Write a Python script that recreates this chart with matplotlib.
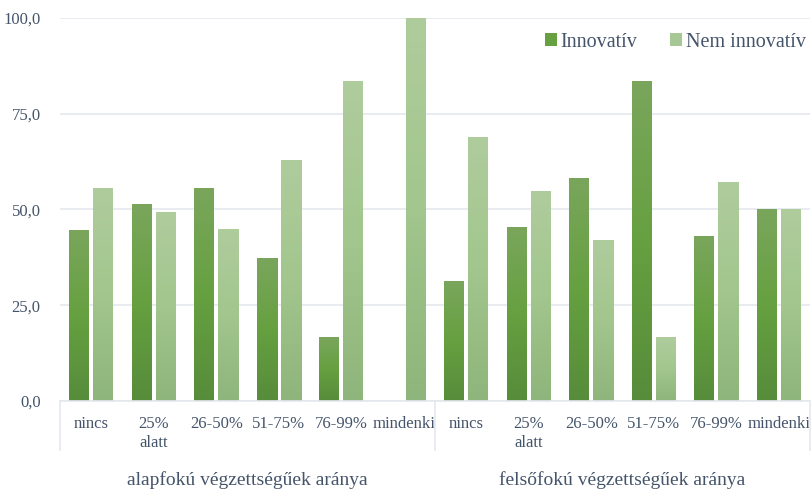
import matplotlib.pyplot as plt
import numpy as np
from matplotlib.colors import LinearSegmentedColormap
from matplotlib.lines import Line2D
from matplotlib.patches import Patch

groups = ["alapfokú végzettségűek aránya", "felsőfokú végzettségűek aránya"]
categories = ["nincs", "25%\nalatt", "26-50%", "51-75%", "76-99%", "mindenki"]
innovativ = [44.6, 51.2, 55.4, 37.3, 16.7, 0.0,
             31.1, 45.4, 58.2, 83.3, 42.9, 50.0]
nem_innovativ = [55.4, 49.1, 44.9, 62.7, 83.3, 100.0,
                 68.9, 54.6, 41.8, 16.7, 57.1, 50.0]
series_names = ["Innovatív", "Nem innovatív"]

text_color = "#44546a"
grid_color = "#e4e7ee"
dark_cmap = LinearSegmentedColormap.from_list("dark", ["#578c3b", "#66a040", "#7aa65c"])
light_cmap = LinearSegmentedColormap.from_list("light", ["#8eb57b", "#a2c68d", "#afcc9d"])

plt.rcParams["font.family"] = ["Liberation Serif", "DejaVu Serif"]

fig = plt.figure(figsize=(8.12, 4.9), dpi=100)
ax = fig.add_axes([60 / 812, 89 / 490, 750 / 812, 383 / 490])

labels = categories * len(groups)
x = np.arange(len(labels))
w = 0.32
gap = 0.03
grad = np.linspace(0, 1, 256).reshape(-1, 1)

for vals, cmap, off in [(innovativ, dark_cmap, -(w / 2 + gap)), (nem_innovativ, light_cmap, w / 2 + gap)]:
    for xi, v in zip(x, vals):
        if v <= 0:
            continue
        ax.imshow(grad, cmap=cmap, origin="lower", aspect="auto",
                  extent=(xi + off - w / 2, xi + off + w / 2, 0, v), zorder=2)

ax.set_xlim(-0.5, len(labels) - 0.5)
ax.set_ylim(0, 100)
ax.set_yticks([0, 25, 50, 75, 100])
ax.set_yticklabels([f"{t:.1f}".replace(".", ",") for t in [0, 25, 50, 75, 100]])
ax.set_xticks(x)
ax.set_xticklabels(labels)
ax.tick_params(axis="both", length=0, colors=text_color, labelsize=12)
ax.tick_params(axis="x", pad=11)
ax.tick_params(axis="y", pad=14)
ax.grid(axis="y", color=grid_color, linewidth=1.2, zorder=0)
ax.set_axisbelow(True)
for s in ["top", "right", "left"]:
    ax.spines[s].set_visible(False)
ax.spines["bottom"].set_color(grid_color)
ax.spines["bottom"].set_linewidth(1.2)

# group separators and group labels
for xs in [60, 435, 810]:
    fig.add_artist(Line2D([xs / 812, xs / 812], [89 / 490, 40 / 490], color=grid_color, linewidth=1.2))
for gi, g in enumerate(groups):
    cx = (60 + 375 * gi + 187.5) / 812
    fig.text(cx, 1 - 480 / 490, g, ha="center", va="center", fontsize=14, color=text_color)

handles = [Patch(facecolor="#66a040"), Patch(facecolor="#a7c894")]
ax.legend(handles, series_names, loc="center right", bbox_to_anchor=(1.0, 0.937), ncol=2,
          frameon=False, fontsize=14.5, labelcolor=text_color, handlelength=0.6,
          handleheight=0.6, handletextpad=0.2, borderpad=0.1, borderaxespad=0.1,
          columnspacing=1.6)

fig.savefig("out.png", dpi=100)
